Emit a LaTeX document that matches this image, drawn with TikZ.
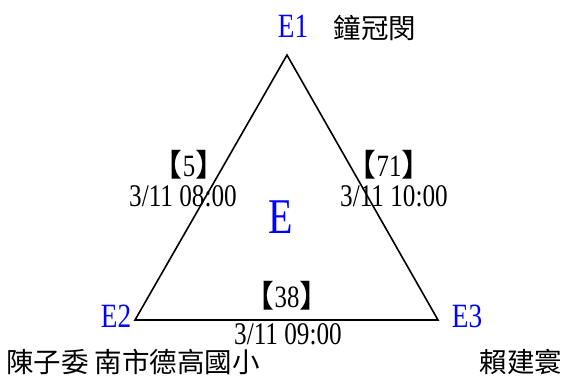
\documentclass[tikz,border=0pt]{standalone}
\usepackage{fontspec}
\setmainfont{Liberation Serif}[FakeStretch=0.8]
\newfontfamily\cjk{Noto Sans CJK TC}
\definecolor{lblblue}{RGB}{0,0,255}
\tikzset{
  vlabel/.style={inner sep=0pt, anchor=base, text=lblblue, font=\fontsize{34}{40}\selectfont},
  bigE/.style={inner sep=0pt, anchor=base, text=lblblue, font=\fontsize{50}{60}\selectfont},
  datetxt/.style={inner sep=0pt, anchor=base, font=\fontsize{31.5}{36}\selectfont},
  cnt/.style={inner sep=0pt, anchor=base, font=\fontsize{31}{36}\selectfont},
  cname/.style={inner sep=0pt, anchor=center, font=\cjk\fontsize{27.5}{32}\selectfont},
  edge/.style={line width=1.6pt, line join=miter}
}
\begin{document}
\begin{tikzpicture}[x=1pt, y=-1pt]
\useasboundingbox (0,0) rectangle (565,376);
\coordinate (v1) at (287,55);
\coordinate (v2) at (135,320);
\coordinate (v3) at (438,320);
\draw[edge] (v1) -- (v2) -- (v3) -- cycle;
\node[vlabel] (l1) at (293,37) {E1};
\node[vlabel] (l2) at (116,327) {E2};
\node[vlabel] (l3) at (467,327) {E3};
\node[bigE] (lE) at (281,233) {E};
\node[cname] (n1) at (375,28) {鐘冠閔};
\node[cname] (n2) at (133,362) {陳子委 南市德高國小};
\node[cname] (n3) at (521,362) {賴建寰};
\node[cnt] (c12) at (189,176) {{\cjk 【}5{\cjk 】}};
\node[datetxt] (d12) at (183,206) {3/11 08:00};
\node[cnt] (c13) at (389,176) {{\cjk 【}71{\cjk 】}};
\node[datetxt] (d13) at (394,206) {3/11 10:00};
\node[cnt] (c23) at (287,307) {{\cjk 【}38{\cjk 】}};
\node[datetxt] (d23) at (288,344) {3/11 09:00};
\end{tikzpicture}
\end{document}
